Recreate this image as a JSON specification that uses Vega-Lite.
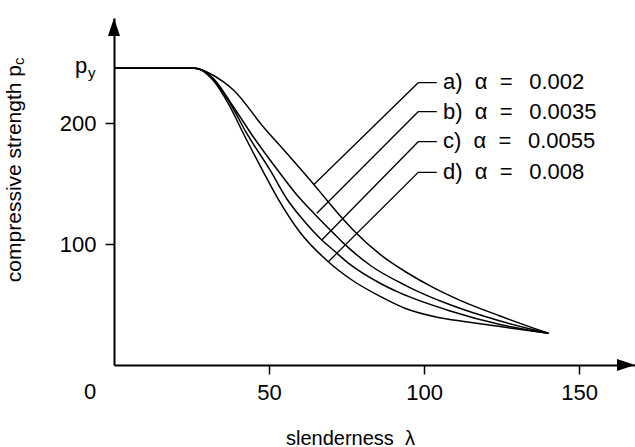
{
  "$schema": "https://vega.github.io/schema/vega-lite/v6.json",
  "width": 521,
  "height": 347,
  "autosize": {"type": "none"},
  "padding": {"left": 114, "top": 18, "right": 0, "bottom": 82},
  "background": "white",
  "config": {
    "view": {"stroke": null},
    "font": "Liberation Sans",
    "axis": {"grid": false, "domainColor": "black", "tickColor": "black", "labelColor": "black", "titleColor": "black"}
  },
  "datasets": {
    "curves": [
      {"curve": "a", "lambda": 0, "pc": 245.4}, {"curve": "a", "lambda": 26.1, "pc": 245.4}, {"curve": "a", "lambda": 30.6, "pc": 241.5}, {"curve": "a", "lambda": 35.2, "pc": 234.3}, {"curve": "a", "lambda": 38.5, "pc": 227.5}, {"curve": "a", "lambda": 48.1, "pc": 197.1}, {"curve": "a", "lambda": 55.7, "pc": 175.1}, {"curve": "a", "lambda": 64.3, "pc": 149.7}, {"curve": "a", "lambda": 68.6, "pc": 136.5}, {"curve": "a", "lambda": 72.9, "pc": 123.5}, {"curve": "a", "lambda": 77.2, "pc": 111.5}, {"curve": "a", "lambda": 85.8, "pc": 91.5}, {"curve": "a", "lambda": 94.4, "pc": 76.5}, {"curve": "a", "lambda": 103.0, "pc": 64.0}, {"curve": "a", "lambda": 111.6, "pc": 53.5}, {"curve": "a", "lambda": 124.5, "pc": 40.5}, {"curve": "a", "lambda": 140.1, "pc": 26.2},
      {"curve": "b", "lambda": 0, "pc": 245.4}, {"curve": "b", "lambda": 26.1, "pc": 245.4}, {"curve": "b", "lambda": 31.9, "pc": 237.4}, {"curve": "b", "lambda": 38.5, "pc": 213.6}, {"curve": "b", "lambda": 44.9, "pc": 188.8}, {"curve": "b", "lambda": 52.5, "pc": 162.1}, {"curve": "b", "lambda": 59.0, "pc": 140.6}, {"curve": "b", "lambda": 64.5, "pc": 125.3}, {"curve": "b", "lambda": 69.7, "pc": 111.7}, {"curve": "b", "lambda": 73.9, "pc": 101.0}, {"curve": "b", "lambda": 82.6, "pc": 82.5}, {"curve": "b", "lambda": 94.4, "pc": 65.3}, {"curve": "b", "lambda": 108.4, "pc": 49.8}, {"curve": "b", "lambda": 124.5, "pc": 36.4}, {"curve": "b", "lambda": 140.1, "pc": 26.2},
      {"curve": "c", "lambda": 0, "pc": 245.4}, {"curve": "c", "lambda": 26.1, "pc": 245.4}, {"curve": "c", "lambda": 31.9, "pc": 236.6}, {"curve": "c", "lambda": 37.4, "pc": 216.7}, {"curve": "c", "lambda": 42.9, "pc": 191.1}, {"curve": "c", "lambda": 50.3, "pc": 161.3}, {"curve": "c", "lambda": 55.7, "pc": 137.5}, {"curve": "c", "lambda": 61.3, "pc": 119.1}, {"curve": "c", "lambda": 67.0, "pc": 103.4}, {"curve": "c", "lambda": 70.7, "pc": 95.1}, {"curve": "c", "lambda": 76.1, "pc": 83.2}, {"curve": "c", "lambda": 85.8, "pc": 67.6}, {"curve": "c", "lambda": 92.2, "pc": 59.6}, {"curve": "c", "lambda": 108.4, "pc": 44.7}, {"curve": "c", "lambda": 124.5, "pc": 33.5}, {"curve": "c", "lambda": 140.1, "pc": 26.2},
      {"curve": "d", "lambda": 0, "pc": 245.4}, {"curve": "d", "lambda": 26.1, "pc": 245.4}, {"curve": "d", "lambda": 31.9, "pc": 235.7}, {"curve": "d", "lambda": 37.1, "pc": 215.1}, {"curve": "d", "lambda": 42.0, "pc": 190}, {"curve": "d", "lambda": 48.1, "pc": 160}, {"curve": "d", "lambda": 53.0, "pc": 137}, {"curve": "d", "lambda": 59.9, "pc": 110.0}, {"curve": "d", "lambda": 69.1, "pc": 85.4}, {"curve": "d", "lambda": 76.7, "pc": 70.3}, {"curve": "d", "lambda": 86.0, "pc": 56.5}, {"curve": "d", "lambda": 93.8, "pc": 46.9}, {"curve": "d", "lambda": 104.2, "pc": 39.5}, {"curve": "d", "lambda": 113.4, "pc": 35.8}, {"curve": "d", "lambda": 124.5, "pc": 31.8}, {"curve": "d", "lambda": 140.1, "pc": 26.2}
    ],
    "leaders": [
      {"curve": "a", "lambda": 64.3, "pc": 148.9}, {"curve": "a", "lambda": 98.1, "pc": 233.5}, {"curve": "a", "lambda": 104.1, "pc": 233.5},
      {"curve": "b", "lambda": 65.4, "pc": 125.5}, {"curve": "b", "lambda": 98.1, "pc": 209.5}, {"curve": "b", "lambda": 104.1, "pc": 209.5},
      {"curve": "c", "lambda": 67.0, "pc": 103.4}, {"curve": "c", "lambda": 98.1, "pc": 184.7}, {"curve": "c", "lambda": 104.1, "pc": 184.7},
      {"curve": "d", "lambda": 69.1, "pc": 85.4}, {"curve": "d", "lambda": 98.1, "pc": 159.4}, {"curve": "d", "lambda": 104.1, "pc": 159.4}
    ],
    "legend": [
      {"lambda": 106.1, "pc": 234.3, "label": "a)\u00a0\u00a0α\u00a0\u00a0=\u00a0\u00a0\u20090.002"},
      {"lambda": 106.1, "pc": 209.5, "label": "b)\u00a0\u00a0α\u00a0\u00a0=\u00a0\u00a0\u20090.0035"},
      {"lambda": 106.1, "pc": 185.5, "label": "c)\u00a0\u00a0α\u00a0\u00a0=\u00a0\u00a0\u20090.0055"},
      {"lambda": 106.1, "pc": 159.9, "label": "d)\u00a0\u00a0α\u00a0\u00a0=\u00a0\u00a0\u20090.008"}
    ]
  },
  "layer": [
    {
      "data": {"name": "curves"},
      "mark": {"type": "line", "interpolate": "monotone", "color": "black", "strokeWidth": 1.5},
      "encoding": {
        "x": {"field": "lambda", "type": "quantitative", "scale": {"domain": [0, 168], "nice": false},
          "axis": {"values": [50, 100, 150], "title": "slenderness\u00a0\u00a0λ", "titleFontSize": 20, "titleFontWeight": "normal", "titleX": 236, "titleY": 79, "titleBaseline": "alphabetic", "titleAlign": "center", "labelFontSize": 22, "labelBaseline": "alphabetic", "labelPadding": 25, "tickSize": 9, "tickWidth": 1.5, "domainWidth": 2, "labelFlush": false, "labelOverlap": false}},
        "y": {"field": "pc", "type": "quantitative", "scale": {"domain": [0, 287], "nice": false},
          "axis": {"values": [100, 200], "title": null, "labelFontSize": 22, "labelPadding": 9, "tickSize": 9, "tickWidth": 1.5, "domainWidth": 2, "labelFlush": false, "labelOverlap": false}},
        "detail": {"field": "curve", "type": "nominal"}
      }
    },
    {
      "data": {"name": "leaders"},
      "mark": {"type": "line", "interpolate": "linear", "color": "black", "strokeWidth": 1.3},
      "encoding": {
        "x": {"field": "lambda", "type": "quantitative"},
        "y": {"field": "pc", "type": "quantitative"},
        "detail": {"field": "curve", "type": "nominal"}
      }
    },
    {
      "data": {"name": "legend"},
      "mark": {"type": "text", "align": "left", "baseline": "middle", "fontSize": 22, "color": "black"},
      "encoding": {
        "x": {"field": "lambda", "type": "quantitative"},
        "y": {"field": "pc", "type": "quantitative"},
        "text": {"field": "label"}
      }
    },
    {
      "data": {"values": [{"lambda": 0, "pc": 0, "label": "0"}]},
      "mark": {"type": "text", "align": "center", "baseline": "alphabetic", "fontSize": 22, "dx": -24, "dy": 34, "color": "black"},
      "encoding": {
        "x": {"field": "lambda", "type": "quantitative"},
        "y": {"field": "pc", "type": "quantitative"},
        "text": {"field": "label"}
      }
    },
    {
      "data": {"values": [{"lambda": 0, "pc": 245.4, "label": "p"}]},
      "mark": {"type": "text", "align": "left", "baseline": "alphabetic", "fontSize": 22, "dx": -39, "dy": 5, "color": "black"},
      "encoding": {
        "x": {"field": "lambda", "type": "quantitative"},
        "y": {"field": "pc", "type": "quantitative"},
        "text": {"field": "label"}
      }
    },
    {
      "data": {"values": [{"lambda": 0, "pc": 245.4, "label": "y"}]},
      "mark": {"type": "text", "align": "left", "baseline": "alphabetic", "fontSize": 15, "dx": -26, "dy": 10, "color": "black"},
      "encoding": {
        "x": {"field": "lambda", "type": "quantitative"},
        "y": {"field": "pc", "type": "quantitative"},
        "text": {"field": "label"}
      }
    },
    {
      "data": {"values": [{"lambda": 0, "pc": 248.1, "label": "compressive strength p"}]},
      "mark": {"type": "text", "align": "right", "baseline": "alphabetic", "angle": 270, "fontSize": 21, "dy": -93, "color": "black"},
      "encoding": {
        "x": {"field": "lambda", "type": "quantitative"},
        "y": {"field": "pc", "type": "quantitative"},
        "text": {"field": "label"}
      }
    },
    {
      "data": {"values": [{"lambda": 0, "pc": 248.1, "label": "c"}]},
      "mark": {"type": "text", "align": "left", "baseline": "alphabetic", "angle": 270, "fontSize": 15, "dy": -90, "color": "black"},
      "encoding": {
        "x": {"field": "lambda", "type": "quantitative"},
        "y": {"field": "pc", "type": "quantitative"},
        "text": {"field": "label"}
      }
    },
    {
      "data": {"values": [{"lambda": 165.1, "pc": 0}]},
      "mark": {"type": "point", "shape": "M1,0L-1,-0.667L-1,0.667Z", "size": 324, "filled": true, "color": "black", "opacity": 1, "strokeWidth": 0},
      "encoding": {
        "x": {"field": "lambda", "type": "quantitative"},
        "y": {"field": "pc", "type": "quantitative"}
      }
    },
    {
      "data": {"values": [{"lambda": 0, "pc": 279.6}]},
      "mark": {"type": "point", "shape": "M0,-1L-0.667,1L0.667,1Z", "size": 324, "filled": true, "color": "black", "opacity": 1, "strokeWidth": 0},
      "encoding": {
        "x": {"field": "lambda", "type": "quantitative"},
        "y": {"field": "pc", "type": "quantitative"}
      }
    }
  ]
}
